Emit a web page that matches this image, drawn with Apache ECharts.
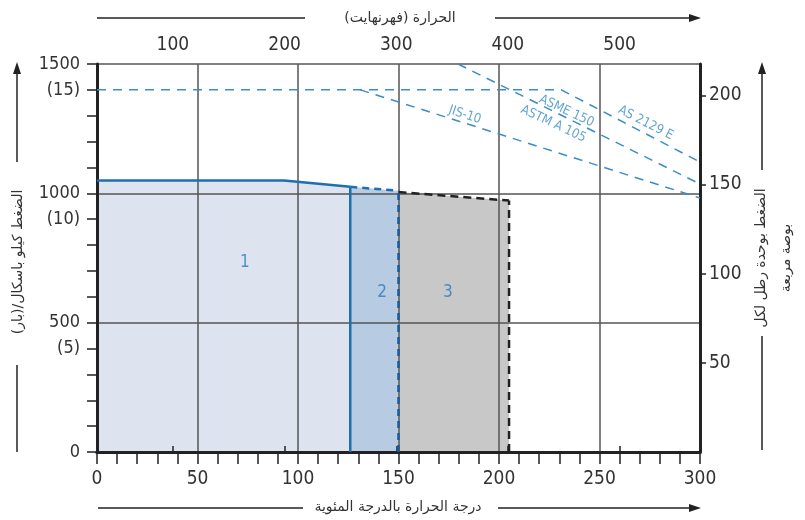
<!DOCTYPE html>
<html>
<head>
<meta charset="utf-8">
<script src="https://cdn.jsdelivr.net/npm/echarts@6/dist/echarts.min.js"></script>
<style>
  html, body { margin: 0; padding: 0; background: #fff; }
  #chart { width: 805px; height: 520px; }
</style>
</head>
<body>
<div id="chart"></div>
<script>
// مناطق التشغيل (درجة مئوية، كيلو باسكال)
const region1Top = [[0, 1050], [93, 1050], [126, 1025]];
const region2Top = [[126, 1025], [150, 1010]];
const region3Top = [[150, 1005], [205, 972]];

// منحنيات المعايير
const as2129E = [[0, 1400], [231, 1400], [300, 1121]];
const jis10 = [[131, 1400], [300, 982]];
const asme150 = [[179.6, 1500], [300, 1036]];

// نصوص المنحنيات: [x, y, النص, زاوية]
const curveLabels = [
  [183, 1303, 'JIS-10', -18],
  [233.6, 1318, 'ASME 150', -25],
  [227, 1268, 'ASTM A 105', -25],
  [273, 1272, 'AS 2129 E', -27]
];
const regionLabels = [[73.6, 734, '1'], [141.8, 615, '2'], [174.6, 615, '3']];

// تسميات المحاور
const pressureLabelValues = [0, 400, 500, 900, 1000, 1400, 1500];
const pressureLabelTexts = ['0', '(5)', '500', '(10)', '1000', '(15)', '1500'];
const fahrenheitTicks = [100, 200, 300, 400, 500];
const psiPerKpa = 1 / 6.89476;

const numFont = 'Liberation Sans Narrow, DejaVu Sans Condensed, sans-serif';
const arFont = 'DejaVu Sans, Noto Sans, sans-serif';
const axisColor = '#222';
const gridColor = '#555';
const curveBlue = '#3a8dc9';
const lineBlue = '#1f6fb0';

const myChart = echarts.init(document.getElementById('chart'), null, { renderer: 'canvas' });

function lineSeries(data, color, type, width, z) {
  return {
    type: 'line', data: data, symbol: 'none', z: z || 3, silent: true,
    lineStyle: { color: color, type: type, width: width }
  };
}
function areaSeries(data, fill) {
  return {
    type: 'line', data: data, symbol: 'none', z: -1, silent: true,
    lineStyle: { width: 0 }, areaStyle: { color: fill, opacity: 1 }
  };
}
function arrowGraphic(x1, y1, x2, y2) {
  // خط مع رأس سهم عند (x2, y2)
  const ang = Math.atan2(y2 - y1, x2 - x1);
  const L = 12, W = 4;
  const bx = x2 - L * Math.cos(ang), by = y2 - L * Math.sin(ang);
  return [
    { type: 'line', shape: { x1: x1, y1: y1, x2: bx, y2: by }, style: { stroke: '#222', lineWidth: 1.5 } },
    { type: 'polygon', shape: { points: [[x2, y2],
        [bx + W * Math.sin(ang), by - W * Math.cos(ang)],
        [bx - W * Math.sin(ang), by + W * Math.cos(ang)]] }, style: { fill: '#222' } }
  ];
}
function plainLine(x1, y1, x2, y2) {
  return { type: 'line', shape: { x1: x1, y1: y1, x2: x2, y2: y2 }, style: { stroke: '#222', lineWidth: 1.5 } };
}

const option = {
  animation: false,
  backgroundColor: '#fff',
  grid: { left: 97, right: 105, top: 64, bottom: 68 },
  xAxis: [
    {
      type: 'value', position: 'bottom', min: 0, max: 300, interval: 50,
      axisLine: { lineStyle: { color: axisColor, width: 3 } },
      axisTick: { length: 12, lineStyle: { color: axisColor, width: 1.5 } },
      minorTick: { show: true, splitNumber: 5, length: 12, lineStyle: { color: axisColor, width: 1.5 } },
      axisLabel: { color: '#333', fontSize: 19, fontFamily: numFont, margin: 18 },
      splitLine: { show: true, lineStyle: { color: gridColor, width: 1.5 } }
    },
    {
      type: 'value', position: 'top', min: 32, max: 572,
      axisLine: { lineStyle: { color: axisColor, width: 3 } },
      axisTick: { customValues: fahrenheitTicks, length: 6, lineStyle: { color: axisColor, width: 1.5 } },
      axisLabel: { customValues: fahrenheitTicks, color: '#333', fontSize: 19, fontFamily: numFont, margin: 9 },
      splitLine: { show: false }
    }
  ],
  yAxis: [
    {
      type: 'value', position: 'left', min: 0, max: 1500, interval: 500,
      axisLine: { show: true, lineStyle: { color: axisColor, width: 3 } },
      axisTick: { show: true, length: 10, lineStyle: { color: axisColor, width: 1.5 } },
      minorTick: { show: true, splitNumber: 5, length: 10, lineStyle: { color: axisColor, width: 1.5 } },
      axisLabel: {
        customValues: pressureLabelValues, color: '#333', fontSize: 18, fontFamily: numFont, margin: 17,
        formatter: function (v) {
          const i = pressureLabelValues.indexOf(v);
          return i >= 0 ? pressureLabelTexts[i] : '';
        }
      },
      splitLine: { show: true, lineStyle: { color: gridColor, width: 1.5 } }
    },
    {
      type: 'value', position: 'right', min: 0, max: 1500 * psiPerKpa, interval: 50,
      axisLine: { show: true, lineStyle: { color: axisColor, width: 3 } },
      axisTick: { show: true, length: 6, lineStyle: { color: axisColor, width: 1.5 } },
      axisLabel: {
        color: '#333', fontSize: 19, fontFamily: numFont, margin: 9,
        showMinLabel: false, showMaxLabel: false,
        formatter: function (v) { return (v > 0 && v % 50 === 0) ? String(v) : ''; }
      },
      splitLine: { show: false }
    }
  ],
  series: [
    // التعبئة
    areaSeries(region1Top, '#dde4f0'),
    areaSeries(region2Top, '#b7cbe3'),
    areaSeries(region3Top, '#c8c8c9'),
    // حدود المناطق
    lineSeries(region1Top, lineBlue, 'solid', 2.5),
    lineSeries([[region1Top[2][0], 0], region1Top[2]], lineBlue, 'solid', 2.5),
    lineSeries(region2Top, lineBlue, [7, 5], 2.5),
    lineSeries([[region2Top[1][0], 0], region2Top[1]], '#1b5a9a', [7, 5], 2.5),
    lineSeries(region3Top, '#222', [8, 5], 2.5),
    lineSeries([[region3Top[1][0], 0], region3Top[1]], '#222', [8, 5], 2.5),
    // منحنيات المعايير
    lineSeries(as2129E, curveBlue, [9, 7], 1.5),
    lineSeries(jis10, curveBlue, [9, 7], 1.5),
    lineSeries(asme150, curveBlue, [9, 7], 1.5),
    {
      type: 'scatter', symbolSize: 0, silent: true, z: 5,
      data: curveLabels.map(function (d) {
        return { value: [d[0], d[1]], label: { rotate: d[3] }, name: d[2] };
      }),
      label: {
        show: true, position: 'inside', formatter: '{b}',
        color: curveBlue, fontSize: 13, fontFamily: numFont
      }
    },
    {
      type: 'scatter', symbolSize: 0, silent: true, z: 5,
      data: regionLabels.map(function (d) { return { value: [d[0], d[1]], name: d[2] }; }),
      label: {
        show: true, position: 'inside', formatter: '{b}',
        color: '#2a7ab8', fontSize: 17, fontFamily: numFont
      }
    }
  ],
  graphic: [].concat(
    // العنوان العلوي
    [plainLine(97, 18, 305, 18)],
    arrowGraphic(495, 18, 701, 18),
    [{ type: 'text', x: 400, y: 18, style: { text: 'الحرارة (فهرنهايت)', font: '14px ' + arFont, fill: '#333', align: 'center', verticalAlign: 'middle' } }],
    // العنوان السفلي
    [plainLine(98, 508, 303, 508)],
    arrowGraphic(498, 508, 701, 508),
    [{ type: 'text', x: 398, y: 507, style: { text: 'درجة الحرارة بالدرجة المئوية', font: '14px ' + arFont, fill: '#333', align: 'center', verticalAlign: 'middle' } }],
    // المحور الأيسر
    arrowGraphic(17, 162, 17, 62),
    [plainLine(17, 365, 17, 452)],
    [{ type: 'text', x: 18, y: 262, rotation: Math.PI / 2, style: { text: 'الضغط كيلو باسكال/(بار)', font: '14px ' + arFont, fill: '#333', align: 'center', verticalAlign: 'middle' } }],
    // المحور الأيمن
    arrowGraphic(762, 170, 762, 62),
    [plainLine(762, 336, 762, 450)],
    [{ type: 'text', x: 774, y: 258, rotation: Math.PI / 2, style: { text: 'الضغط بوحدة رطل لكل\nبوصة مربعة', font: '14px ' + arFont, fill: '#333', align: 'center', verticalAlign: 'middle', lineHeight: 25 } }]
  ),
  series_end: null
};
delete option.series_end;

myChart.setOption(option);
</script>
</body>
</html>
